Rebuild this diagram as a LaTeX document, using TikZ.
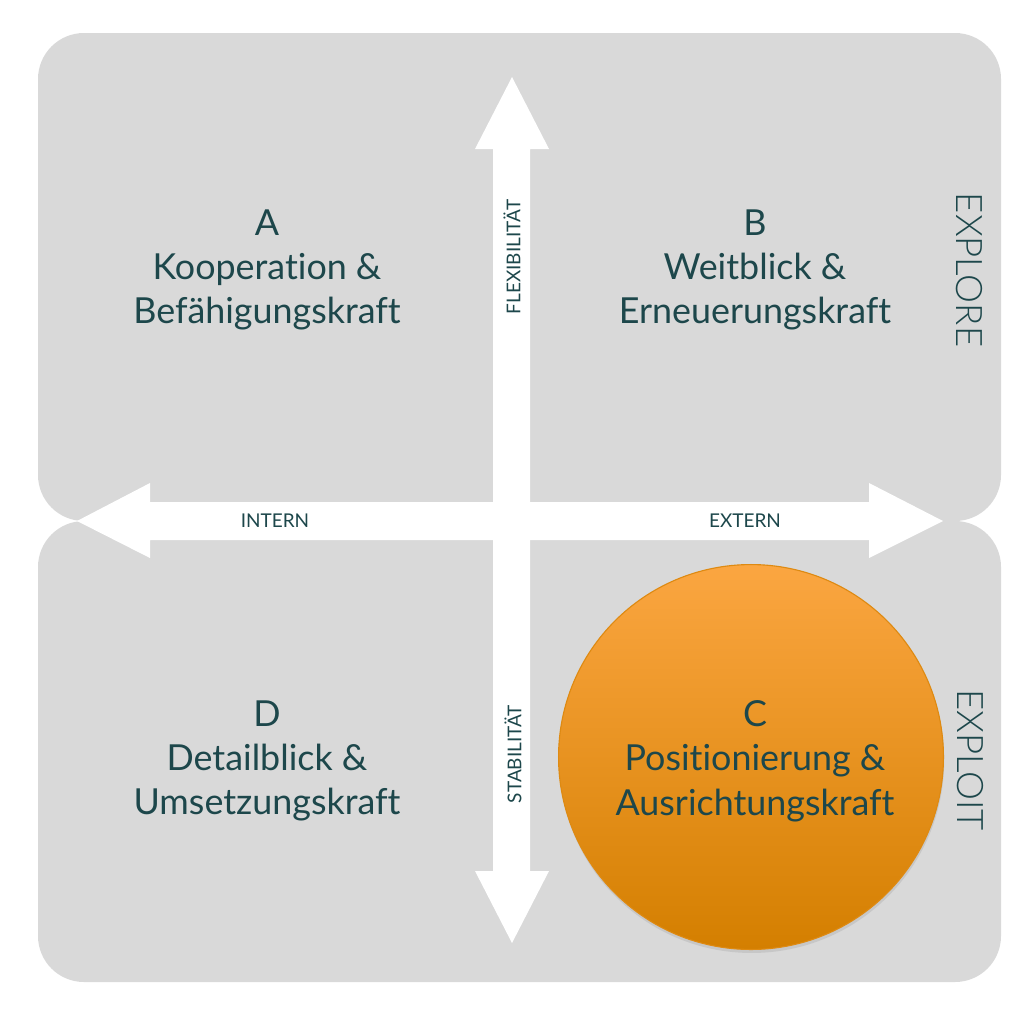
\documentclass[tikz,border=0pt]{standalone}
\usepackage{fontspec}
\setmainfont{Lato}[Ligatures={NoCommon}]
\newfontfamily\lightfont{Lato Light}
\usepackage{tikz}
\usetikzlibrary{shadows}

\definecolor{panelgray}{HTML}{D9D9D9}
\definecolor{labelteal}{HTML}{1D474B}
\definecolor{circtop}{HTML}{FBA641}
\definecolor{circbottom}{HTML}{D47F00}
\definecolor{circedge}{HTML}{DE8A12}

\begin{document}
\begin{tikzpicture}[
    x=0.025cm, y=-0.025cm,  % pixel grid, y downwards
    panel/.style={fill=panelgray, rounded corners=1.15cm},
    quad/.style={align=center, text=labelteal, font=\fontsize{25.5}{31.5}\selectfont},
    axis/.style={text=labelteal, font=\fontsize{13.5}{15}\selectfont, inner sep=0pt},
    side/.style={text=labelteal, font=\lightfont\fontsize{26}{30}\selectfont, inner sep=0pt}]
    \useasboundingbox (0,0) rectangle (1024,1019);

    % Panels
    \fill[panel] (38,33) rectangle (1001,521);
    \fill[panel] (38,521) rectangle (1001,982);

    % Axis arrows
    \fill[white] (77,521) -- (150,483) -- (150,502) -- (869,502) -- (869,483)
        -- (943,521) -- (869,558) -- (869,540) -- (150,540) -- (150,558) -- cycle;
    \fill[white] (512,77) -- (549,149) -- (530,149) -- (530,871) -- (549,871)
        -- (512,943) -- (475,871) -- (493,871) -- (493,149) -- (475,149) -- cycle;

    % Highlighted quadrant
    \node (circC) [circle, minimum size=9.62cm, draw=circedge, line width=0.8pt,
        top color=circtop, bottom color=circbottom,
        drop shadow={opacity=0.2, shadow xshift=0.5pt, shadow yshift=-2.5pt}]
        at (751,757) {};

    % Quadrants
    \node (A) [quad] at (267,270) {A\\Kooperation \&\\Befähigungskraft};
    \node (B) [quad] at (755,270) {B\\Weitblick \&\\Erneuerungskraft};
    \node (C) [quad] at (755,761) {C\\Positionierung \&\\Ausrichtungskraft};
    \node (D) [quad] at (267,761) {D\\Detailblick \&\\Umsetzungskraft};

    % Axis labels
    \node (intern) [axis] at (275,521) {INTERN};
    \node (extern) [axis] at (745,521) {EXTERN};
    \node (flex) [axis, rotate=90] at (512,257) {FLEXIBILITÄT};
    \node (stab) [axis, rotate=90] at (513,754) {STABILITÄT};

    % Sides
    \node (explore) [side, rotate=-90] at (969,270) {EXPLORE};
    \node (exploit) [side, rotate=-90] at (970,760) {EXPLOIT};
\end{tikzpicture}
\end{document}
